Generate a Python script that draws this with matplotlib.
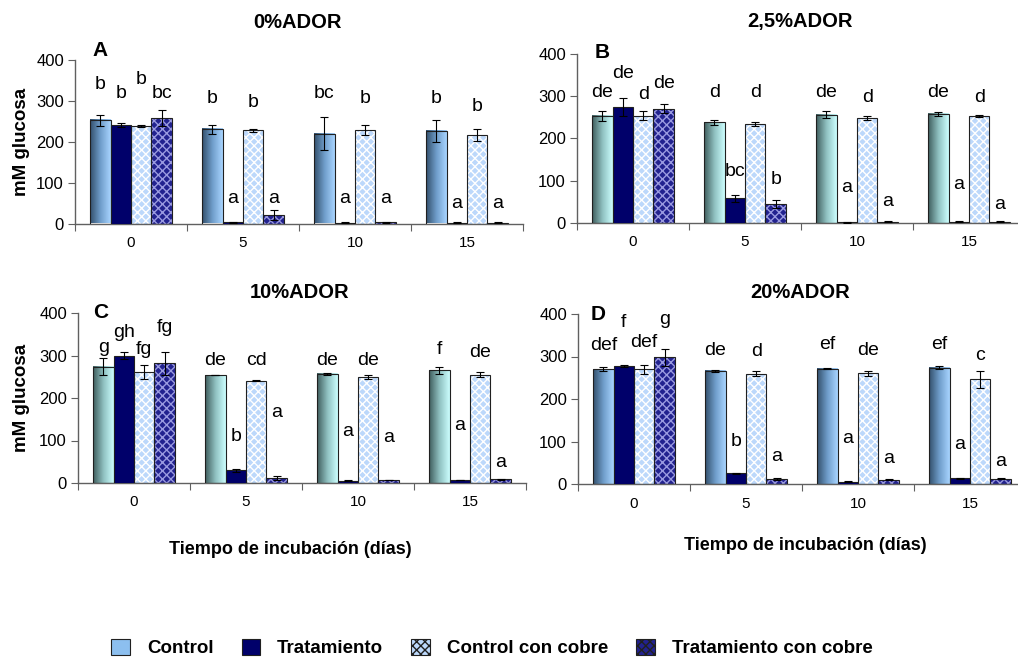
import numpy as np
import matplotlib
matplotlib.use("Agg")
import matplotlib.pyplot as plt
from matplotlib.colors import LinearSegmentedColormap
from matplotlib.patches import Patch

plt.rcParams['font.family'] = ['Liberation Sans', 'DejaVu Sans']
plt.rcParams['hatch.linewidth'] = 1.0

dias = ["0", "5", "10", "15"]
tratamientos = ["Control", "Tratamiento", "Control con cobre", "Tratamiento con cobre"]
titulos = ["0%ADOR", "2,5%ADOR", "10%ADOR", "20%ADOR"]
paneles = ["A", "B", "C", "D"]

# filas = dias, columnas = tratamientos
media_A = [[252, 241, 238, 258], [230, 3, 228, 20], [220, 2, 229, 3], [226, 2, 217, 2]]
err_A = [[14, 4, 3, 20], [11, 1, 4, 12], [40, 1, 13, 1], [26, 1, 14, 1]]
letras_A = [["b", "b", "b", "bc"], ["b", "a", "b", "a"], ["bc", "a", "b", "a"], ["b", "a", "b", "a"]]
alt_A = [[339, 319, 353, 319], [305, 62, 295, 62], [319, 62, 305, 62], [305, 48, 287, 48]]

media_B = [[254, 275, 254, 271], [238, 58, 235, 45], [256, 2, 249, 3], [258, 3, 253, 3]]
err_B = [[12, 21, 11, 11], [5, 8, 5, 10], [8, 1, 5, 1], [5, 1, 3, 1]]
letras_B = [["de", "de", "d", "de"], ["d", "bc", "d", "b"], ["de", "a", "d", "a"], ["de", "a", "d", "a"]]
alt_B = [[310, 355, 305, 329], [310, 123, 310, 102], [310, 83, 296, 50], [310, 90, 296, 43]]

media_C = [[274, 300, 261, 282], [254, 30, 241, 12], [257, 5, 250, 7], [265, 7, 255, 9]]
err_C = [[19, 9, 17, 27], [1, 3, 1, 5], [2, 1, 5, 1], [9, 1, 6, 1]]
letras_C = [["g", "gh", "fg", "fg"], ["de", "b", "cd", "a"], ["de", "a", "de", "a"], ["f", "a", "de", "a"]]
alt_C = [[320, 355, 313, 365], [289, 109, 289, 165], [289, 120, 289, 106], [313, 136, 306, 49]]

media_D = [[270, 278, 270, 298], [266, 25, 260, 12], [271, 5, 261, 10], [274, 13, 247, 12]]
err_D = [[5, 3, 11, 20], [2, 1, 5, 3], [1, 1, 6, 1], [3, 1, 20, 1]]
letras_D = [["def", "f", "def", "g"], ["de", "b", "d", "a"], ["ef", "a", "de", "a"], ["ef", "a", "c", "a"]]
alt_D = [[327, 379, 332, 388], [313, 101, 311, 64], [329, 108, 313, 59], [329, 94, 303, 52]]

datos = [(media_A, err_A, letras_A, alt_A), (media_B, err_B, letras_B, alt_B),
         (media_C, err_C, letras_C, alt_C), (media_D, err_D, letras_D, alt_D)]

grad_azul = LinearSegmentedColormap.from_list("azul", ["#33506c", "#6f9dca", "#a8d4ff"])
grad_verde = LinearSegmentedColormap.from_list("verde", ["#3f5d5d", "#8fc0c0", "#ccffff"])
gradientes = [grad_azul, grad_verde, grad_verde, grad_azul]

W, H = 1018, 661
fig = plt.figure(figsize=(W / 100, H / 100), dpi=100)

# posicion de cada panel en pixeles: izquierda, y del cero, y del 400
cajas = [(75, 223.5, 60), (577, 223, 54), (78, 483, 313), (578, 484, 314)]
ancho_px = 448
titulo_xy = [(298, 22), (800, 22), (300, 293), (800, 293)]
letra_xy = [(100, 50), (602, 52), (101, 313), (598, 315)]

ancho = 0.183
desp = np.array([-1.5, -0.5, 0.5, 1.5]) * ancho
grad_img = np.linspace(0, 1, 64).reshape(1, -1)

for k in range(4):
    media, err, letras, alt = datos[k]
    izq, y0, y4 = cajas[k]
    ax = fig.add_axes([izq / W, 1 - y0 / H, ancho_px / W, (y0 - y4) / H])
    media = np.array(media)
    err = np.array(err)
    for d in range(4):
        xc = d + 0.5 + desp
        # Control: barra con degradado horizontal
        x0 = xc[0] - ancho / 2
        ax.imshow(grad_img, cmap=gradientes[k], aspect='auto',
                  extent=[x0, x0 + ancho, 0, media[d, 0]], zorder=2)
        ax.bar(xc[0], media[d, 0], ancho, fill=False, edgecolor="#202020", linewidth=0.8, zorder=3)
        # Tratamiento
        ax.bar(xc[1], media[d, 1], ancho, color="#00006a", edgecolor="#202020", linewidth=0.8, zorder=3)
        # Control con cobre
        ax.bar(xc[2], media[d, 2], ancho, color="#bcd8fb", hatch="xxxx", edgecolor="white",
               linewidth=0, zorder=2)
        ax.bar(xc[2], media[d, 2], ancho, fill=False, edgecolor="#202020", linewidth=0.8, zorder=3)
        # Tratamiento con cobre
        ax.bar(xc[3], media[d, 3], ancho, color="#22228f", hatch="xxxx", edgecolor="#9a9ae0",
               linewidth=0, zorder=2)
        ax.bar(xc[3], media[d, 3], ancho, fill=False, edgecolor="#202020", linewidth=0.8, zorder=3)
        ax.errorbar(xc, media[d], yerr=err[d], fmt='none', ecolor='black',
                    elinewidth=0.8, capsize=3, capthick=0.8, zorder=4)
        for j in range(4):
            ax.text(xc[j], alt[d][j], letras[d][j], ha='center', va='center', fontsize=14)

    ax.set_xlim(0, 4)
    ax.set_ylim(0, 400)
    ax.set_yticks([0, 100, 200, 300, 400])
    ax.set_xticks([0, 1, 2, 3, 4])
    ax.set_xticklabels([])
    ax.set_xticks([0.5, 1.5, 2.5, 3.5], minor=True)
    ax.set_xticklabels(dias, minor=True)
    ax.tick_params(axis='x', which='minor', length=0, pad=9, labelsize=11)
    ax.tick_params(axis='x', which='major', length=5, color="#606060", direction='out')
    ax.tick_params(axis='y', length=5, color="#606060", labelsize=12, pad=3)
    for s in ['top', 'right']:
        ax.spines[s].set_visible(False)
    for s in ['left', 'bottom']:
        ax.spines[s].set_color("#606060")
        ax.spines[s].set_linewidth(1.0)

    fig.text(titulo_xy[k][0] / W, 1 - titulo_xy[k][1] / H, titulos[k], ha='center', va='center',
             fontsize=14.5, fontweight='bold')
    fig.text(letra_xy[k][0] / W, 1 - letra_xy[k][1] / H, paneles[k], ha='center', va='center',
             fontsize=15, fontweight='bold')

fig.text(22 / W, 1 - 142 / H, "mM glucosa", rotation=90, ha='center', va='center',
         fontsize=13.5, fontweight='bold')
fig.text(22 / W, 1 - 398 / H, "mM glucosa", rotation=90, ha='center', va='center',
         fontsize=13.5, fontweight='bold')
fig.text(290 / W, 1 - 549 / H, "Tiempo de incubación (días)", ha='center', va='center',
         fontsize=13, fontweight='bold')
fig.text(805 / W, 1 - 545 / H, "Tiempo de incubación (días)", ha='center', va='center',
         fontsize=13, fontweight='bold')

handles = [
    Patch(facecolor="#8cbfef", edgecolor="#202020", linewidth=0.8),
    Patch(facecolor="#00006a", edgecolor="#202020", linewidth=0.8),
    Patch(facecolor="#bcd8fb", edgecolor="#202020", hatch="xxxx", linewidth=0.8),
    Patch(facecolor="#22228f", edgecolor="#202020", hatch="xxxx", linewidth=0.8),
]
fig.legend(handles, tratamientos, loc='center', bbox_to_anchor=(492 / W, 1 - 648 / H),
           ncol=4, frameon=False, prop={'weight': 'bold', 'size': 13.5},
           handlelength=1.0, handleheight=1.0, columnspacing=1.5, handletextpad=0.9)

fig.savefig("out.png", dpi=100)
